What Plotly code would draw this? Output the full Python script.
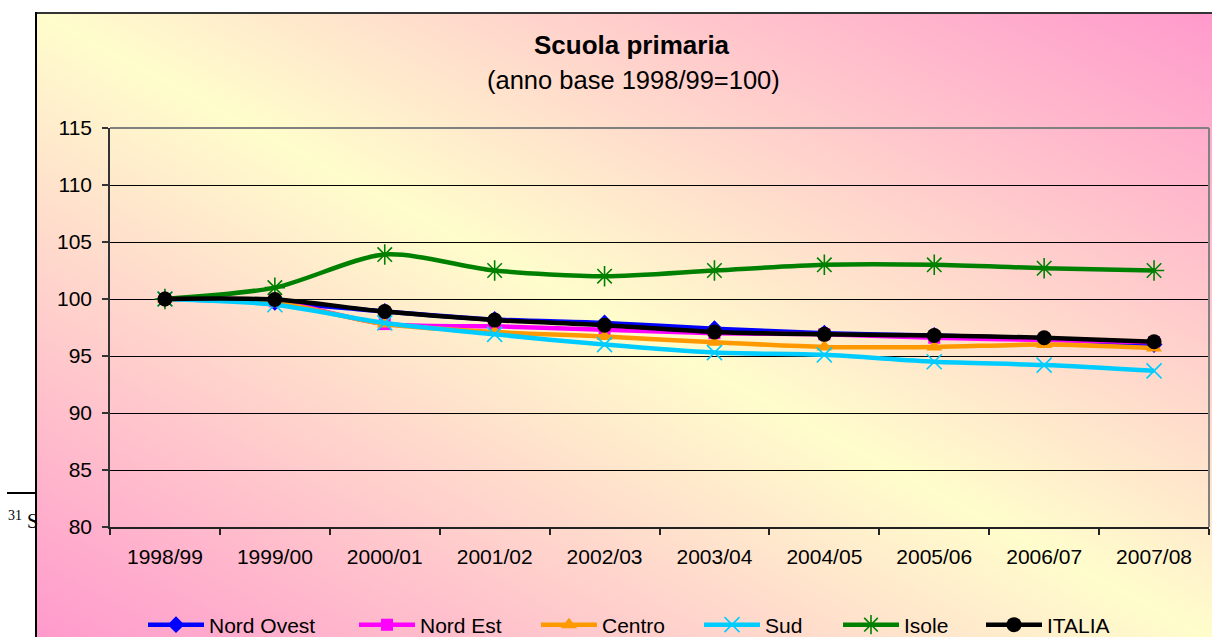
import base64
import plotly.graph_objects as go

# ---------------- data ----------------
years = ["1998/99", "1999/00", "2000/01", "2001/02", "2002/03",
         "2003/04", "2004/05", "2005/06", "2006/07", "2007/08"]
nord_ovest = [100, 99.7, 98.9, 98.2, 97.9, 97.4, 97.0, 96.8, 96.5, 96.0]
nord_est = [100, 99.8, 97.8, 97.6, 97.3, 97.0, 96.9, 96.6, 96.4, 96.2]
centro = [100, 99.7, 97.8, 97.1, 96.7, 96.2, 95.8, 95.8, 96.0, 95.7]
sud = [100, 99.5, 97.9, 96.9, 96.0, 95.3, 95.1, 94.5, 94.2, 93.7]
isole = [100, 101.0, 103.9, 102.5, 102.0, 102.5, 103.0, 103.0, 102.7, 102.5]
italia = [100, 99.95, 98.9, 98.15, 97.7, 97.1, 96.9, 96.8, 96.6, 96.25]

series_names = ["Nord Ovest", "Nord Est", "Centro", "Sud", "Isole", "ITALIA"]
series_values = [nord_ovest, nord_est, centro, sud, isole, italia]
series_colors = ["#0000FF", "#FF00FF", "#FF9900", "#00CCFF", "#008000", "#000000"]
series_symbols = ["diamond", "square", "triangle-up", "x-thin-open", "asterisk-open", "circle"]
series_msizes = [13, 12, 14, 15, 17, 15]

title_text = "<b>Scuola primaria</b>"
subtitle_text = "(anno base 1998/99=100)"

# ---------------- geometry helpers ----------------
FW, FH = 1212, 637
L, R, T, B = 110, 3, 128, 110
PW, PH = FW - L - R, FH - T - B


def px_x(x):
    return (x - L) / PW


def px_y(y):
    return (FH - B - y) / PH


# gradient background (chart area) as SVG image
GW, GH = 1182, 630
svg = f'''<svg xmlns="http://www.w3.org/2000/svg" width="{GW}" height="{GH}" viewBox="0 0 {GW} {GH}" preserveAspectRatio="none">
<defs><linearGradient id="g" x1="0" y1="1" x2="1" y2="0">
<stop offset="0" stop-color="#FF99CC"/><stop offset="0.5" stop-color="#FFFDCC"/><stop offset="1" stop-color="#FF99CC"/>
</linearGradient></defs>
<rect x="0" y="0" width="{GW}" height="{GH}" fill="url(#g)"/>
<line x1="0" y1="1" x2="{GW}" y2="1" stroke="#333333" stroke-width="2"/>
<line x1="1" y1="0" x2="1" y2="{GH}" stroke="#000000" stroke-width="2"/>
</svg>'''
src = "data:image/svg+xml;base64," + base64.b64encode(svg.encode()).decode()

fig = go.Figure()

legend_x_px = [143, 354, 536, 699, 838, 981]
legend_keys = ["legend", "legend2", "legend3", "legend4", "legend5", "legend6"]

for i, (name, vals) in enumerate(zip(series_names, series_values)):
    sym = series_symbols[i]
    open_sym = sym.endswith("open")
    fig.add_trace(go.Scatter(
        x=years, y=vals, name=name, mode="lines+markers",
        line=dict(color=series_colors[i], width=4.5, shape="spline", smoothing=0.8),
        marker=dict(symbol=sym, size=series_msizes[i], color=series_colors[i],
                    line=dict(color=series_colors[i], width=1.6 if open_sym else 0)),
        legend=legend_keys[i],
    ))

legend_font = dict(family="Arial, Liberation Sans, sans-serif", size=21, color="#000000")
leg_cfg = {}
for i, key in enumerate(legend_keys):
    leg_cfg[key] = dict(
        x=px_x(legend_x_px[i]), xanchor="left", y=px_y(625), yanchor="middle",
        orientation="h", bgcolor="rgba(0,0,0,0)", borderwidth=0,
        font=legend_font, itemwidth=56, itemclick=False,
    )

axis_font = dict(family="Arial, Liberation Sans, sans-serif", size=21, color="#000000")

fig.update_layout(
    width=FW, height=FH,
    margin=dict(l=L, r=R, t=T, b=B, pad=0, autoexpand=False),
    paper_bgcolor="#FFFFFF",
    plot_bgcolor="rgba(0,0,0,0)",
    showlegend=True,
    images=[dict(source=src, xref="paper", yref="paper",
                 x=px_x(35), y=px_y(12), sizex=GW / PW, sizey=GH / PH,
                 xanchor="left", yanchor="top", sizing="stretch", layer="below")],
    xaxis=dict(
        type="category", range=[-0.5, len(years) - 0.5],
        showgrid=False, showline=True, linecolor="#222222", linewidth=1.5,
        ticks="outside", ticklen=6, tickcolor="#222222", tickwidth=1.5,
        tickson="boundaries", tickfont=axis_font, ticklabelstandoff=10,
        zeroline=False, fixedrange=True, automargin=False,
    ),
    yaxis=dict(
        range=[80, 115], dtick=5, tick0=80,
        showgrid=True, gridcolor="#000000", gridwidth=1,
        showline=True, linecolor="#333333", linewidth=1.5,
        ticks="outside", ticklen=6, tickcolor="#333333", tickwidth=1.5,
        tickfont=axis_font, ticklabelstandoff=6,
        zeroline=False, fixedrange=True, automargin=False,
    ),
    shapes=[
        # plot-area border (top and right)
        dict(type="line", xref="paper", yref="paper", x0=0, x1=1, y0=1, y1=1,
             line=dict(color="#808080", width=2), layer="above"),
        dict(type="line", xref="paper", yref="paper", x0=1, x1=1, y0=0, y1=1,
             line=dict(color="#808080", width=2), layer="above"),
        # footnote rule from the surrounding document
        dict(type="line", xref="paper", yref="paper", x0=px_x(7), x1=px_x(35),
             y0=px_y(493), y1=px_y(493), line=dict(color="#000000", width=2)),
    ],
    annotations=[
        dict(text=title_text, xref="paper", yref="paper", x=px_x(632), y=px_y(45),
             xanchor="center", yanchor="middle", showarrow=False,
             font=dict(family="Arial, Liberation Sans, sans-serif", size=26, color="#000000")),
        dict(text=subtitle_text, xref="paper", yref="paper", x=px_x(633), y=px_y(80),
             xanchor="center", yanchor="middle", showarrow=False,
             font=dict(family="Arial, Liberation Sans, sans-serif", size=25.5, color="#000000")),
        dict(text="<sup>31</sup> S", xref="paper", yref="paper", x=px_x(6), y=px_y(520),
             xanchor="left", yanchor="middle", showarrow=False,
             font=dict(family="Times New Roman, Liberation Serif, serif", size=20, color="#000000")),
    ],
    **leg_cfg,
)

fig.write_html(
    "out.html",
    config={"displayModeBar": False},
    post_script="document.body.style.margin='0';document.body.style.padding='0';document.body.style.overflow='hidden';",
)
